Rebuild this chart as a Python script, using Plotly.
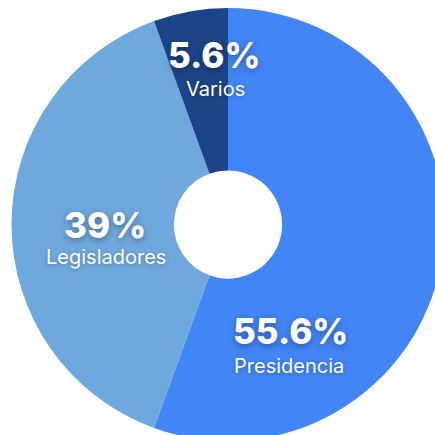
import plotly.graph_objects as go

# --- data ---
categories = ["Presidencia", "Legisladores", "Varios"]
values = [10, 7, 1]
pct_labels = ["55.6%", "39%", "5.6%"]
colors = ["#4285F4", "#6FA8DC", "#1C4587"]

# figure is a bit larger than the window so the donut gets cropped right/bottom
W, H = 446, 446
CX, CY, R = 228, 224.5, 216.5

# label anchor points (px): percent line, name line
label_pos = [(290, 331, 289, 366), (105, 225, 106, 257), (214, 55, 215, 89)]

fig = go.Figure()
fig.add_trace(go.Pie(
    labels=categories,
    values=values,
    marker=dict(colors=colors, line=dict(width=0)),
    hole=0.25,
    sort=False,
    direction="clockwise",
    rotation=0,
    textinfo="none",
    hoverinfo="label+percent",
    domain=dict(x=[max(0, (CX - R) / W), min(1, (CX + R) / W)],
                y=[max(0, (H - CY - R) / H), min(1, (H - CY + R) / H)]),
    showlegend=False,
))

for pct, name, (px, py, nx, ny) in zip(pct_labels, categories, label_pos):
    fig.add_annotation(
        text=pct, x=px / W, y=1 - py / H,
        xref="paper", yref="paper", showarrow=False,
        xanchor="center", yanchor="middle",
        font=dict(family="Inter, Open Sans, sans-serif", size=35, color="white",
                  weight=800, shadow="0px 2px 6px rgba(0,0,0,0.35)"),
    )
    fig.add_annotation(
        text=name, x=nx / W, y=1 - ny / H,
        xref="paper", yref="paper", showarrow=False,
        xanchor="center", yanchor="middle",
        font=dict(family="Inter, Open Sans, sans-serif", size=20, color="white",
                  shadow="0px 1px 4px rgba(0,0,0,0.25)"),
    )

fig.update_layout(
    width=W, height=H,
    margin=dict(l=0, r=0, t=0, b=0),
    paper_bgcolor="white",
    plot_bgcolor="white",
)

# drop the default body margin and hide scrollbars; the window crops the overflow
fig.write_html("out.html", config={"displayModeBar": False}, post_script=(
    "document.body.style.margin='0';"
    "document.documentElement.style.overflow='hidden';"))
